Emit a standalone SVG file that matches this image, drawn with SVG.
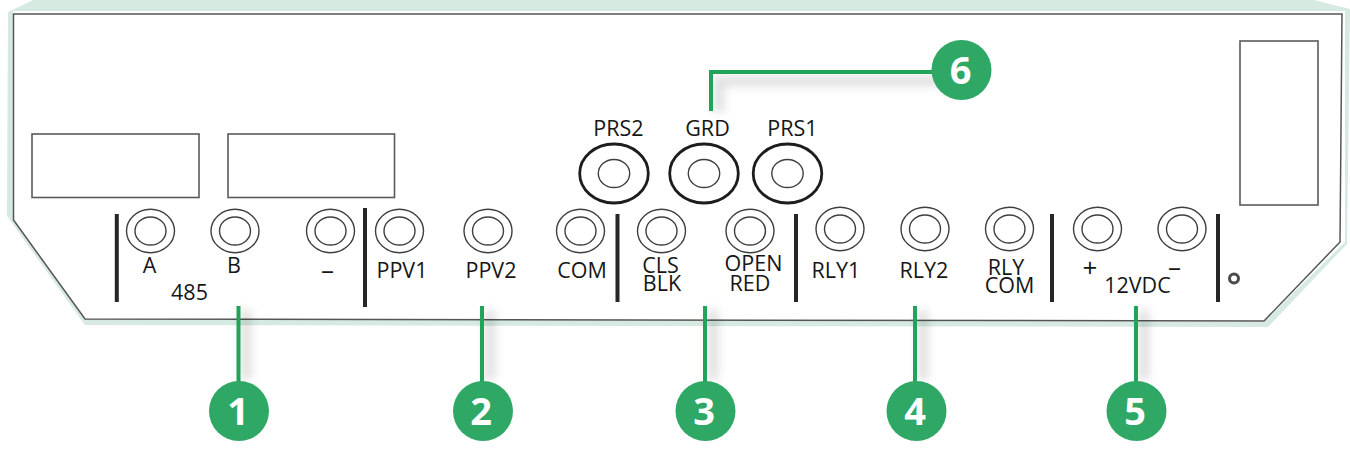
<svg xmlns="http://www.w3.org/2000/svg" width="1350" height="452" viewBox="0 0 1350 452">
<style>
.t{font-family:"Open Sans","Noto Sans","Liberation Sans",sans-serif;font-size:21.500px;fill:#161616;text-anchor:middle}
.s{font-size:26px}
.n{font-family:"Open Sans","Noto Sans","Liberation Sans",sans-serif;font-size:38px;font-weight:700;fill:#fff;text-anchor:middle}
.ro{fill:none;stroke:#3f3f3f;stroke-width:1.4}
.bo{fill:none;stroke:#1d1d1d;stroke-width:2.8}
.bar{stroke:#262626;stroke-width:4;fill:none}
.box{fill:#fff;stroke:#5a5a5a;stroke-width:1.6}
.c{fill:none;stroke:#22a35a;stroke-width:4}
.b{fill:#2fa866}
.sh{fill:none;stroke:#000;stroke-opacity:.13;stroke-width:10}
</style>
<defs>
<filter id="blur" x="-50%" y="-50%" width="200%" height="200%"><feGaussianBlur stdDeviation="5"/></filter>
<g id="term"><ellipse class="ro" rx="24" ry="21.700"/><ellipse class="ro" rx="15.500" ry="14"/></g>
<g id="big"><ellipse class="bo" rx="34.300" ry="29.500"/><ellipse class="ro" rx="15.700" ry="14"/></g>
</defs>
<g id="panel">
<polygon points="33,0 1314,0 1350,9 1347,244 1268,327 85,325 7,216 8,12" fill="#d6eae2"/>
<polygon points="13,11 1345,11 1345,242 1264,322 85,319 13,220" fill="#fff"/>
<polygon points="13.500,14 1342,14 1340,242 1264,321 85,319 13.500,220" fill="none" stroke="#555" stroke-width="1.500"/>
<rect class="box" x="32" y="134" width="167" height="63.500"/>
<rect class="box" x="228" y="134" width="166.500" height="63.500"/>
<rect class="box" x="1240" y="41" width="78" height="164"/>
</g>
<g id="bars">
<path class="bar" d="M116.800 214V302M365 208V307M617.500 214V302M796 214V302M1052 214V302M1218 214V302"/>
<circle cx="1234" cy="278.500" r="4.500" fill="none" stroke="#4a4a4a" stroke-width="3"/>
</g>
<g id="connectors">
<g filter="url(#blur)"><path class="sh" d="M246 310V380M490 310V380M713 310V380M923 310V380M1144 310V380M719 112V81H940"/></g>
<path class="c" d="M238.500 306V382M482 306V382M705 306V382M915 306V382M1136 306V382M711 111V72H945"/>
</g>
<g id="t-a"><use href="#term" x="150.500" y="231"/><text class="t" x="149.500" y="272.500">A</text></g>
<g id="t-b"><use href="#term" x="235" y="231"/><text class="t" x="234" y="272.500">B</text></g>
<g id="t-minus"><use href="#term" x="330.500" y="231"/><text class="t s" x="327.500" y="279">–</text></g>
<text id="l-485" class="t" x="189.500" y="300">485</text>
<g id="t-ppv1"><use href="#term" x="399.500" y="231"/><text class="t" x="402" y="278">PPV1</text></g>
<g id="t-ppv2"><use href="#term" x="488" y="231"/><text class="t" x="491" y="278">PPV2</text></g>
<g id="t-com"><use href="#term" x="580.500" y="231"/><text class="t" x="582" y="278">COM</text></g>
<g id="t-cls"><use href="#term" x="661.500" y="231"/><text class="t" x="660.500" y="273">CLS</text><text class="t" x="662" y="291">BLK</text></g>
<g id="t-open"><use href="#term" x="750" y="231"/><text class="t" x="753.500" y="271">OPEN</text><text class="t" x="750" y="291">RED</text></g>
<g id="t-rly1"><use href="#term" x="840" y="229"/><text class="t" x="836" y="278">RLY1</text></g>
<g id="t-rly2"><use href="#term" x="925" y="229"/><text class="t" x="924" y="278">RLY2</text></g>
<g id="t-rlycom"><use href="#term" x="1009.500" y="229"/><text class="t" x="1006" y="275">RLY</text><text class="t" x="1009.500" y="293">COM</text></g>
<g id="t-plus"><use href="#term" x="1097.500" y="229"/><text class="t s" x="1090" y="277">+</text></g>
<g id="t-minus2"><use href="#term" x="1182" y="229"/><text class="t s" x="1174.500" y="276">–</text></g>
<text id="l-12vdc" class="t" x="1137.500" y="293">12VDC</text>
<g id="prs2"><use href="#big" x="614" y="173.500"/><text class="t" x="618.500" y="136">PRS2</text></g>
<g id="grd"><use href="#big" x="704" y="173.500"/><text class="t" x="707.500" y="136">GRD</text></g>
<g id="prs1"><use href="#big" x="787.500" y="173.500"/><text class="t" x="792.500" y="136">PRS1</text></g>
<g id="b1"><circle class="b" cx="239" cy="411" r="30"/><text class="n" x="238" y="424.500">1</text></g>
<g id="b2"><circle class="b" cx="483" cy="411" r="30"/><text class="n" x="481" y="424.500">2</text></g>
<g id="b3"><circle class="b" cx="705.500" cy="411" r="30"/><text class="n" x="704" y="424.500">3</text></g>
<g id="b4"><circle class="b" cx="916.500" cy="411" r="30"/><text class="n" x="915" y="424.500">4</text></g>
<g id="b5"><circle class="b" cx="1136.500" cy="411" r="30"/><text class="n" x="1135" y="424.500">5</text></g>
<g id="b6"><circle class="b" cx="961.500" cy="70" r="30"/><text class="n" x="960.500" y="83.500">6</text></g>
</svg>
